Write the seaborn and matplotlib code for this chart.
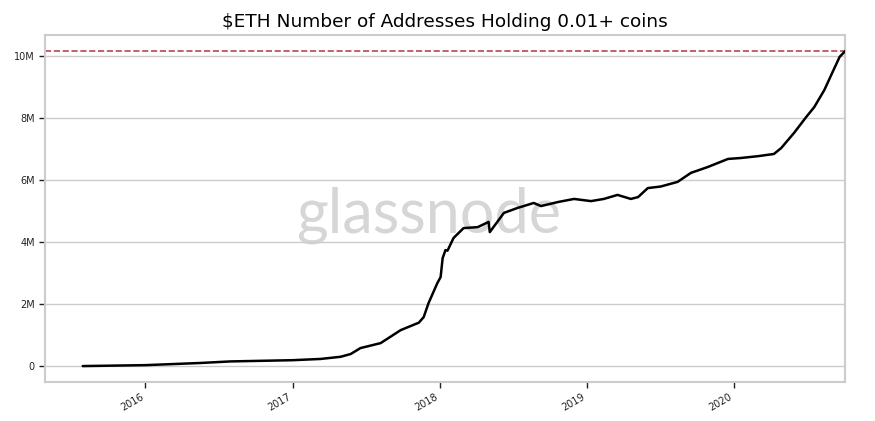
import pandas as pd
import seaborn as sns
import matplotlib
matplotlib.use("Agg")
import matplotlib.pyplot as plt
import matplotlib.dates as mdates
from matplotlib.ticker import FuncFormatter

# values (addresses, millions)
dates = ["2015-07-30", "2016-01-01", "2016-05-17", "2016-07-30", "2017-01-01",
         "2017-03-11", "2017-04-30", "2017-05-25", "2017-06-18", "2017-08-07",
         "2017-09-26", "2017-11-10", "2017-11-22", "2017-12-04", "2017-12-26", "2018-01-03",
         "2018-01-08", "2018-01-15", "2018-01-20", "2018-02-04", "2018-03-01",
         "2018-04-05", "2018-05-02", "2018-05-05", "2018-06-09", "2018-07-13",
         "2018-08-22", "2018-09-09", "2018-10-21", "2018-11-30", "2019-01-11",
         "2019-02-12", "2019-03-18", "2019-04-20", "2019-05-08", "2019-06-01",
         "2019-07-03", "2019-08-14", "2019-09-16", "2019-10-28", "2019-12-17",
         "2020-01-18", "2020-03-01", "2020-04-09", "2020-04-27", "2020-05-29",
         "2020-06-28", "2020-07-18", "2020-08-12", "2020-09-04", "2020-09-19",
         "2020-10-03"]
addresses_m = [0.0, 0.03, 0.10, 0.15, 0.19,
               0.23, 0.30, 0.39, 0.58, 0.74,
               1.16, 1.40, 1.58, 2.03, 2.68, 2.87,
               3.48, 3.74, 3.72, 4.13, 4.45,
               4.48, 4.65, 4.32, 4.94, 5.10,
               5.26, 5.16, 5.29, 5.39, 5.32,
               5.39, 5.52, 5.39, 5.45, 5.74,
               5.79, 5.94, 6.23, 6.42, 6.68,
               6.71, 6.77, 6.84, 7.03, 7.52,
               8.03, 8.35, 8.90, 9.55, 9.97,
               10.16]
ath_m = 10.17

df = pd.DataFrame({"date": pd.to_datetime(dates), "addresses": [v * 1e6 for v in addresses_m]})

sns.set_theme(style="whitegrid")
plt.rcParams["font.family"] = ["DejaVu Sans"]

fig = plt.figure(figsize=(8.75, 4.21), dpi=100)
ax = fig.add_axes([0.051, 0.093, 0.915, 0.824])

ax.text(0.48, 0.48, "glassnode", transform=ax.transAxes, ha="center", va="center",
        fontsize=44, color="#d6d6d6", family="Lato", zorder=0)

sns.lineplot(data=df, x="date", y="addresses", color="black", linewidth=1.8, ax=ax, zorder=3)
ax.axhline(ath_m * 1e6, color="#b5484d", linestyle="--", linewidth=1.2, zorder=2)

ax.margins(x=0.05, y=0.05)
ax.set_xlim(right=df["date"].iloc[-1])

ax.set_title("$ETH Number of Addresses Holding 0.01+ coins", fontsize=13.3, color="black")
ax.set_xlabel("")
ax.set_ylabel("")
ax.grid(axis="x", visible=False)
ax.grid(axis="y", color="#cccccc", linewidth=1)

ax.yaxis.set_major_formatter(FuncFormatter(lambda v, p: "0" if v == 0 else f"{v/1e6:.0f}M"))
ax.xaxis.set_major_locator(mdates.YearLocator())
ax.xaxis.set_major_formatter(mdates.DateFormatter("%Y"))
ax.tick_params(axis="both", labelsize=7, length=4, width=1, color="#222222",
               labelcolor="#222222", left=True, bottom=True, pad=3)
for lbl in ax.get_xticklabels():
    lbl.set_rotation(30)
    lbl.set_ha("right")

for s in ax.spines.values():
    s.set_color("#cccccc")
    s.set_linewidth(1.5)

fig.savefig("out.png", dpi=100)
